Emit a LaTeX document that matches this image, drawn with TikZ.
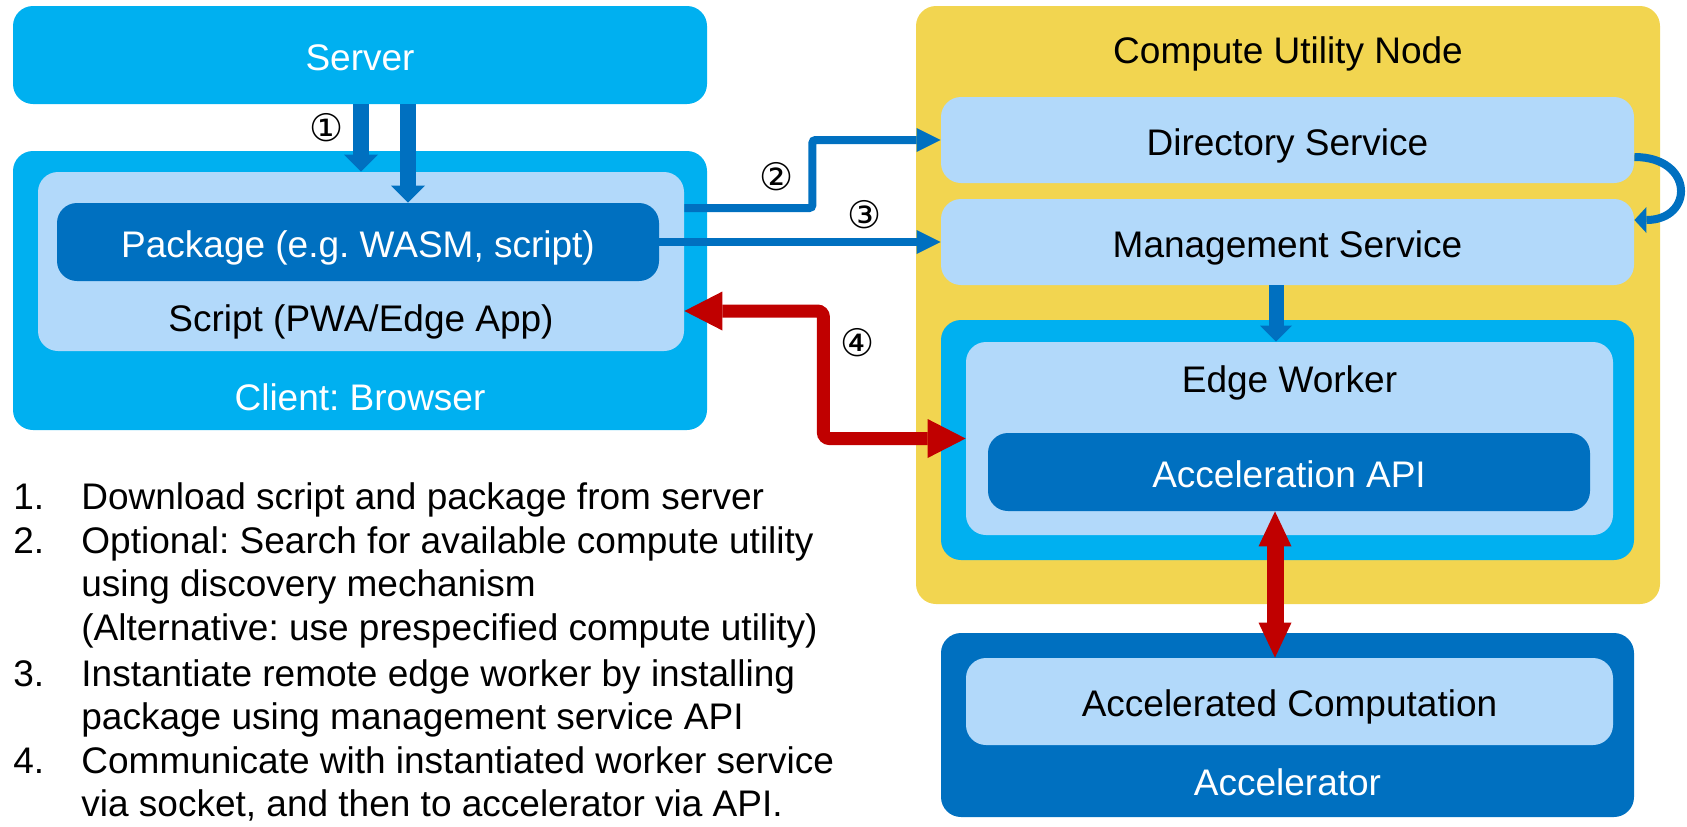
\documentclass[tikz,border=0pt]{standalone}
\usepackage{fontspec}
\setmainfont{Liberation Sans}
\newfontfamily\circfont{DejaVu Sans}
\usetikzlibrary{arrows.meta,calc}
\frenchspacing
\definecolor{servercolor}{HTML}{00B0F0}
\definecolor{palecolor}{HTML}{B2D9FA}
\definecolor{deepcolor}{HTML}{0070C0}
\definecolor{utilitycolor}{HTML}{F2D550}
\definecolor{socketcolor}{HTML}{C00000}

\begin{document}
\begin{tikzpicture}[
    x=0.5pt, y=-0.5pt,
    every node/.style={font=\fontsize{18.5}{21.75}\selectfont},
    box/.style={
        rectangle, rounded corners=10pt, fill=#1, draw=none, inner sep=0pt,
        text height=15.2pt, text depth=0pt
    },
    boxtext/.style={
        inner sep=0pt, text height=13.2pt, text depth=0pt
    },
    stepmark/.style={
        font=\circfont\fontsize{19}{19}\selectfont, inner sep=0pt
    },
    steptext/.style={
        anchor=base west, inner sep=0pt
    },
    download/.style={
        draw=deepcolor, line width=8pt,
        -{Triangle[length=8.5pt, width=17pt, line width=0pt]}
    },
    request/.style={
        draw=deepcolor, line width=4pt, rounded corners=1.5pt,
        -{Triangle[length=12pt, width=12pt, line width=0pt]}
    },
    install/.style={
        draw=deepcolor, line width=7.5pt,
        -{Triangle[length=8pt, width=16pt, line width=0pt]}
    },
    lookup/.style={
        draw=deepcolor, line width=4pt,
        -{Triangle[length=6pt, width=13pt, line width=0pt]}
    },
    socket/.style={
        draw=socketcolor, line width=6.5pt, rounded corners=3pt,
        {Triangle[length=19pt, width=19.5pt, line width=0pt]}-{Triangle[length=19pt, width=19.5pt, line width=0pt]}
    },
    apicall/.style={
        draw=socketcolor, line width=8.5pt,
        {Triangle[length=17.5pt, width=16.5pt, line width=0pt]}-{Triangle[length=17.5pt, width=16.5pt, line width=0pt]}
    }
]
\useasboundingbox (0,0) rectangle (1687,826);

% Server
\node[box=servercolor, text=white, minimum width=347pt, minimum height=49pt] (server) at (360,55) {Server};

% Client: browser, script and package
\node[box=servercolor, minimum width=347pt, minimum height=139.5pt] (client) at (360,290.5) {};
\node[box=palecolor, minimum width=323pt, minimum height=89.5pt] (script) at (361,261.5) {};
\node[box=deepcolor, text=white, minimum width=301pt, minimum height=39pt] (package) at (358,242) {Package (e.g. WASM, script)};
\node[boxtext] at ([yshift=16.5pt]script.south) {Script (PWA/Edge App)};
\node[boxtext, text=white] at ([yshift=16.5pt]client.south) {Client: Browser};

% Compute utility node
\node[box=utilitycolor, minimum width=372pt, minimum height=299pt] (utility) at (1288,305) {};
\node[boxtext] at ([yshift=-22.5pt]utility.north) {Compute Utility Node};
\node[box=palecolor, minimum width=346.5pt, minimum height=43pt] (directory) at (1287.5,140) {Directory Service};
\node[box=palecolor, minimum width=346.5pt, minimum height=43pt] (management) at (1287.5,242) {Management Service};

% Edge worker
\node[box=servercolor, minimum width=346.5pt, minimum height=120pt] (edgeout) at (1287.5,440) {};
\node[box=palecolor, minimum width=323.5pt, minimum height=96.5pt] (edgein) at (1289.5,438.5) {};
\node[boxtext] at ([yshift=-19pt]edgein.north) {Edge Worker};
\node[box=deepcolor, text=white, minimum width=301pt, minimum height=39pt] (accapi) at (1289,472) {Acceleration API};

% Accelerator
\node[box=deepcolor, minimum width=346.5pt, minimum height=92pt] (accel) at (1287.5,725) {};
\node[box=palecolor, minimum width=323.5pt, minimum height=43.5pt] (acccomp) at (1289.5,701.5) {Accelerated Computation};
\node[boxtext, text=white] at ([yshift=17.5pt]accel.south) {Accelerator};

% Step 1: download
\draw[download] ([xshift=0.5pt]server.south) -- ([xshift=0.5pt]server.south |- script.north);
\draw[download] ([xshift=24pt]server.south) -- ([xshift=24pt]server.south |- package.north);
\node[stepmark] (mark1) at (327,128) {①};

% Step 2: discovery
\draw[request] ([yshift=26.75pt]script.east) -- ++(64pt,0) |- (directory.west);
\node[stepmark] (mark2) at (777,177) {②};

% Step 3: install package
\draw[request] (package.east) -- (management.west);
\node[stepmark] (mark3) at (865,215) {③};
\draw[lookup] ([yshift=-8.5pt]directory.east) .. controls +(30pt,0) and +(30pt,0) .. ([yshift=11pt]management.east);
\draw[install] ([xshift=-5.75pt]management.south) -- ([xshift=-5.75pt]management.south |- edgein.north);

% Step 4: socket and API
\draw[socket] ([yshift=-24.75pt]script.east) -- ++(69.5pt,0) |- (edgein.west);
\node[stepmark] (mark4) at (858,343) {④};
\draw[apicall] ([xshift=-7pt]accapi.south) -- ([xshift=-7pt]accapi.south |- acccomp.north);

% Steps
\node[steptext] (n1) at (13,509.5) {1.};
\node[steptext] (s1) at (81,509.5) {Download script and package from server};
\node[steptext] (n2) at (13,553) {2.};
\node[steptext] (s2a) at (81,553) {Optional: Search for available compute utility};
\node[steptext] (s2b) at (81,596.5) {using discovery mechanism};
\node[steptext] (s2c) at (81,640) {(Alternative: use prespecified compute utility)};
\node[steptext] (n3) at (13,686) {3.};
\node[steptext] (s3a) at (81,686) {Instantiate remote edge worker by installing};
\node[steptext] (s3b) at (81,729.5) {package using management service API};
\node[steptext] (n4) at (13,773) {4.};
\node[steptext] (s4a) at (81,773) {Communicate with instantiated worker service};
\node[steptext] (s4b) at (81,816.5) {via socket, and then to accelerator via API.};

\end{tikzpicture}
\end{document}
